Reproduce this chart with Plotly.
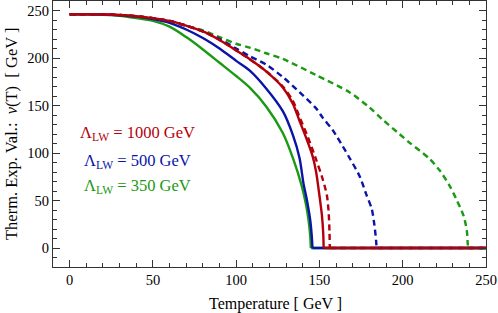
import plotly.graph_objects as go

# ---------------- data ----------------
T_red_solid = [0, 10, 20, 30, 40, 50, 60, 70, 80, 90, 100, 108, 118, 128, 134, 138, 142, 146, 148, 150, 151.5, 152.3, 152.5, 250]
v_red_solid = [246, 246, 245.8, 245.2, 244, 242, 239, 234, 228, 219, 208, 199, 186, 169, 152, 134, 116, 96, 80, 55, 34, 14, 0, 0]

T_red_dash = [0, 10, 20, 30, 40, 50, 60, 70, 80, 90, 100, 108, 118, 128, 134, 138, 143, 148, 151.5, 154.4, 155.5, 156, 156.2, 250]
v_red_dash = [246, 246, 245.8, 245.2, 244, 242, 239, 234, 228, 219, 208, 199, 186, 170, 155, 138, 117, 93, 75, 56, 38, 18, 0, 0]

T_blue_solid = [0, 10, 20, 30, 40, 50, 60, 70, 80, 90, 100, 108, 118, 128, 134, 138, 140.4, 142.5, 144.4, 145.4, 145.8, 250]
v_blue_solid = [246, 246, 245.8, 245, 243.5, 241, 237, 230, 221, 210, 197, 187, 168, 144, 119, 95, 68, 50, 30, 12, 0, 0]

T_blue_dash = [0, 10, 20, 30, 40, 50, 60, 70, 80, 90, 100, 108, 118, 128, 138, 148, 152, 158, 164, 168, 174, 178, 181.4, 183, 184, 184.3, 250]
v_blue_dash = [246, 246, 245.8, 245.2, 244, 242, 239, 234, 228, 220, 210, 202, 193, 180, 164, 147, 137, 124, 107, 95, 76, 57, 41, 24, 8, 0, 0]

T_green_solid = [0, 10, 20, 30, 40, 50, 60, 70, 80, 90, 100, 108, 118, 128, 134.4, 139.4, 142, 143.4, 144.5, 144.8, 250]
v_green_solid = [246, 246, 245.5, 244.5, 242, 239, 233, 222, 209, 195, 181, 169, 149, 121, 93, 65, 45, 30, 12, 0, 0]

T_green_dash = [0, 10, 20, 30, 40, 50, 60, 70, 80, 90, 100, 108, 118, 128, 148, 168, 180, 188, 198, 204, 216, 222, 228, 232, 236.5, 238.5, 239, 239.2, 250]
v_green_dash = [246, 246, 245.8, 245.2, 244, 242, 239, 234, 229, 222, 215, 211, 205, 199, 182, 164, 148, 135, 120, 111, 94, 82, 66, 52, 34, 18, 5, 0, 0]

labels = ["Λ<sub>LW</sub> = 1000 GeV", "Λ<sub>LW</sub> = 500 GeV", "Λ<sub>LW</sub> = 350 GeV"]

RED = "#b3000c"
BLUE = "#0a14a8"
GREEN = "#1a9912"
FONT = "Liberation Serif, Times New Roman, Times, serif"

fig = go.Figure()


def add(x, y, color, dash):
    # curved part (smoothed) up to the critical temperature
    fig.add_trace(go.Scatter(x=x[:-1], y=y[:-1], mode="lines",
                             line=dict(color=color, width=2.4, dash=dash, shape="spline", smoothing=0.8),
                             showlegend=False, hoverinfo="skip"))
    # flat zero part after the transition
    fig.add_trace(go.Scatter(x=x[-2:], y=y[-2:], mode="lines",
                             line=dict(color=color, width=2.4, dash=dash),
                             showlegend=False, hoverinfo="skip"))


add(T_green_solid, v_green_solid, GREEN, "solid")
add(T_blue_solid, v_blue_solid, BLUE, "solid")
add(T_green_dash, v_green_dash, GREEN, "6px,4px")
add(T_blue_dash, v_blue_dash, BLUE, "6px,4px")
add(T_red_dash, v_red_dash, RED, "6px,4px")
add(T_red_solid, v_red_solid, RED, "solid")

axis_common = dict(
    showgrid=False, zeroline=False, showline=True, linecolor="#333333", linewidth=1,
    mirror="ticks", ticks="inside", ticklen=7, tickcolor="#333333", tickwidth=1,
    tickfont=dict(family=FONT, size=14.5, color="black"),
)

fig.update_xaxes(range=[-10, 250], tickvals=[0, 50, 100, 150, 200, 250],
                 minor=dict(dtick=10, tick0=0, ticks="inside", ticklen=4, tickcolor="#333333"),
                 **axis_common)
fig.update_yaxes(range=[-20, 260], tickvals=[0, 50, 100, 150, 200, 250],
                 minor=dict(dtick=10, tick0=0, ticks="inside", ticklen=4, tickcolor="#333333"),
                 **axis_common)

# legend-like labels
fig.add_annotation(x=5.2, y=120.6, xref="x", yref="y", text=labels[0], showarrow=False,
                   xanchor="left", yanchor="middle", font=dict(family=FONT, size=16.5, color=RED))
fig.add_annotation(x=7.6, y=92, xref="x", yref="y", text=labels[1], showarrow=False,
                   xanchor="left", yanchor="middle", font=dict(family=FONT, size=16.5, color=BLUE))
fig.add_annotation(x=7.6, y=65, xref="x", yref="y", text=labels[2], showarrow=False,
                   xanchor="left", yanchor="middle", font=dict(family=FONT, size=16.5, color=GREEN))

# axis titles
fig.add_annotation(x=0.515, y=-0.14, xref="paper", yref="paper", text="Temperature [ GeV ]",
                   showarrow=False, xanchor="center", yanchor="middle",
                   font=dict(family=FONT, size=16, color="black"))
fig.add_annotation(x=-0.097, y=0.5, xref="paper", yref="paper",
                   text="Therm. Exp. Val.:  <i>v</i>(T)  [ GeV ]", textangle=-90,
                   showarrow=False, xanchor="center", yanchor="middle",
                   font=dict(family=FONT, size=16.5, color="black"))

fig.update_layout(width=498, height=313, margin=dict(l=53, r=12, t=1, b=46),
                  plot_bgcolor="white", paper_bgcolor="white")

fig.write_html("out.html", config={"displayModeBar": False},
               post_script="document.body.style.margin='0';")
